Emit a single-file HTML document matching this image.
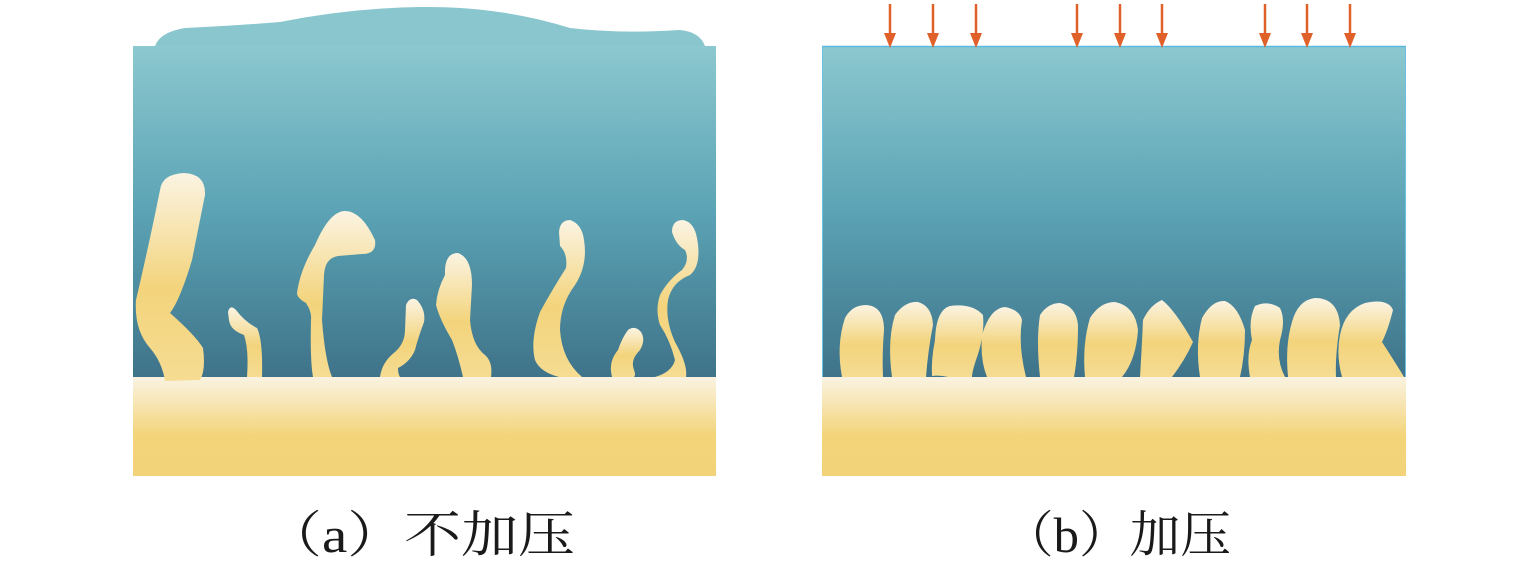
<!DOCTYPE html>
<html><head><meta charset="utf-8"><style>
html,body{margin:0;padding:0;background:#fff;width:1535px;height:574px;overflow:hidden}
</style></head><body>
<svg width="1535" height="574" viewBox="0 0 1535 574" xmlns="http://www.w3.org/2000/svg">
<defs>
<linearGradient id="blue" x1="0" y1="0" x2="0" y2="1">
<stop offset="0" stop-color="#8cc8cf"/><stop offset="0.5" stop-color="#5ba3b5"/><stop offset="1" stop-color="#3f7389"/></linearGradient>
<linearGradient id="sand" x1="0" y1="0" x2="0" y2="1">
<stop offset="0" stop-color="#faf3e2"/><stop offset="0.6" stop-color="#f3d479"/><stop offset="1" stop-color="#f3d37a"/></linearGradient>
<linearGradient id="den" x1="0" y1="0" x2="0" y2="1">
<stop offset="0" stop-color="#fbf4e3"/><stop offset="0.55" stop-color="#f3d47c"/><stop offset="1" stop-color="#f5dc92"/></linearGradient>
</defs>
<!-- left panel -->
<path d="M155,46 Q160,32 185,28 Q230,26 280,22 Q350,8 420,7 Q500,6 570,28 Q620,34 680,30 Q700,32 705,46 Z" fill="#8ac6cd"/>
<rect x="133" y="46" width="583" height="331" fill="url(#blue)"/>
<rect x="133" y="377" width="583" height="99" fill="url(#sand)"/>
<g fill="url(#den)">
<path d="M160,190 Q162,174 184,173 Q206,174 205,195 L192,260 Q180,300 170,313 Q195,335 203,348 Q206,370 200,380 L165,381 Q162,362 150,348 Q134,330 136,300 Q150,240 160,190 Z"/>
<path d="M228,312 Q230,304 236,310 Q245,322 257,328 Q263,340 262,377 L247,377 Q249,350 244,335 Q230,330 229,320 Z"/>
<path d="M297,293 Q300,270 315,245 Q330,210 346,211 Q362,212 375,240 Q377,254 362,254 L338,256 Q325,258 324,275 L322,320 Q325,360 332,377 L313,377 Q310,360 311,320 Q312,312 306,303 Q297,298 297,293 Z"/>
<path d="M380,377 Q382,362 395,352 Q405,343 405,330 L406,305 Q410,296 417,300 Q426,310 424,322 Q418,338 415,350 Q410,362 398,368 Q398,374 400,377 Z"/>
<path d="M445,275 Q444,253 458,253 Q472,258 472,285 L470,320 Q472,345 485,355 Q493,362 491,377 L463,377 Q458,355 452,340 Q440,320 436,305 Q437,290 445,275 Z"/>
<path d="M559,232 Q560,220 570,220 Q582,224 584,240 Q588,265 575,285 Q560,305 560,330 Q562,360 582,377 L559,377 Q540,372 535,360 Q530,340 540,312 Q552,290 566,268 Q568,254 560,246 Z"/>
<path d="M612,377 Q608,362 618,350 Q622,338 628,330 Q635,325 641,332 Q646,340 640,350 Q630,360 634,370 Q636,375 634,377 Z"/>
<path d="M672,232 Q672,220 683,220 Q694,222 697,238 Q702,265 690,275 Q672,282 668,300 Q665,320 675,342 Q688,365 686,377 L655,377 Q672,372 675,360 Q670,340 660,325 Q655,310 660,295 Q668,280 682,270 Q690,260 685,250 Q676,245 672,232 Z"/>
</g>
<!-- right panel -->
<rect x="822" y="46" width="584" height="331" fill="url(#blue)"/>
<line x1="822" y1="46.5" x2="1406" y2="46.5" stroke="#5bb8e0" stroke-width="1.5"/>
<line x1="822.5" y1="46" x2="822.5" y2="377" stroke="#6cc0e0" stroke-width="1"/>
<line x1="1405.5" y1="46" x2="1405.5" y2="377" stroke="#6cc0e0" stroke-width="1"/>
<rect x="822" y="377" width="584" height="99" fill="url(#sand)"/>
<g fill="url(#den)">
<path d="M842,377 Q836,345 845,318 Q852,305 866,305 Q884,306 884,330 Q882,355 883,377 Z"/>
<path d="M892,377 Q887,340 895,315 Q905,301 918,302 Q932,306 933,325 Q928,350 926,377 Z"/>
<path d="M932,376 Q931,360 935,340 Q936,310 950,306 Q972,303 983,315 Q985,335 976,360 Q972,372 972,377 L948,377 Q940,375 932,376 Z"/>
<path d="M987,377 Q980,360 982,335 Q990,308 1005,307 Q1020,310 1022,320 Q1018,345 1026,377 Z"/>
<path d="M1040,377 Q1036,340 1040,315 Q1048,303 1060,303 Q1076,306 1078,325 Q1078,355 1074,377 Z"/>
<path d="M1085,377 Q1082,345 1090,318 Q1100,302 1115,302 Q1135,306 1138,330 Q1136,360 1122,377 Z"/>
<path d="M1140,377 Q1142,345 1143,320 Q1150,305 1162,300 Q1175,310 1193,342 Q1185,360 1172,377 Z"/>
<path d="M1200,377 Q1195,345 1202,318 Q1212,300 1225,301 Q1238,306 1245,330 Q1245,355 1240,377 Z"/>
<path d="M1250,377 Q1246,355 1252,340 Q1248,320 1255,306 Q1268,300 1280,308 Q1286,320 1280,340 Q1276,360 1285,377 Z"/>
<path d="M1288,377 Q1285,345 1292,322 Q1298,300 1315,298 Q1338,298 1340,325 Q1335,355 1336,377 Z"/>
<path d="M1342,377 Q1336,355 1340,335 Q1345,310 1365,303 Q1388,298 1393,310 Q1388,330 1382,342 Q1395,362 1404,377 Z"/>
</g>
<g stroke="#e0602a" stroke-width="2.5">
<line x1="890" y1="4" x2="890" y2="36"/><line x1="933" y1="4" x2="933" y2="36"/><line x1="976" y1="4" x2="976" y2="36"/>
<line x1="1077" y1="4" x2="1077" y2="36"/><line x1="1120" y1="4" x2="1120" y2="36"/><line x1="1162" y1="4" x2="1162" y2="36"/>
<line x1="1265" y1="4" x2="1265" y2="36"/><line x1="1307" y1="4" x2="1307" y2="36"/><line x1="1350" y1="4" x2="1350" y2="36"/>
</g>
<g fill="#e0602a">
<path d="M884,33 L896,33 L890,48 Z"/><path d="M927,33 L939,33 L933,48 Z"/><path d="M970,33 L982,33 L976,48 Z"/>
<path d="M1071,33 L1083,33 L1077,48 Z"/><path d="M1114,33 L1126,33 L1120,48 Z"/><path d="M1156,33 L1168,33 L1162,48 Z"/>
<path d="M1259,33 L1271,33 L1265,48 Z"/><path d="M1301,33 L1313,33 L1307,48 Z"/><path d="M1344,33 L1356,33 L1350,48 Z"/>
</g>
<text x="265" y="552" font-family="'Liberation Serif','Noto Serif CJK SC',serif" font-size="50" fill="#1a1a1a" textLength="310" lengthAdjust="spacingAndGlyphs">（a）不加压</text>
<text x="1003" y="552" font-family="'Liberation Serif','Noto Serif CJK SC',serif" font-size="50" fill="#1a1a1a" textLength="228" lengthAdjust="spacingAndGlyphs">（b）加压</text>
</svg>
</body></html>
